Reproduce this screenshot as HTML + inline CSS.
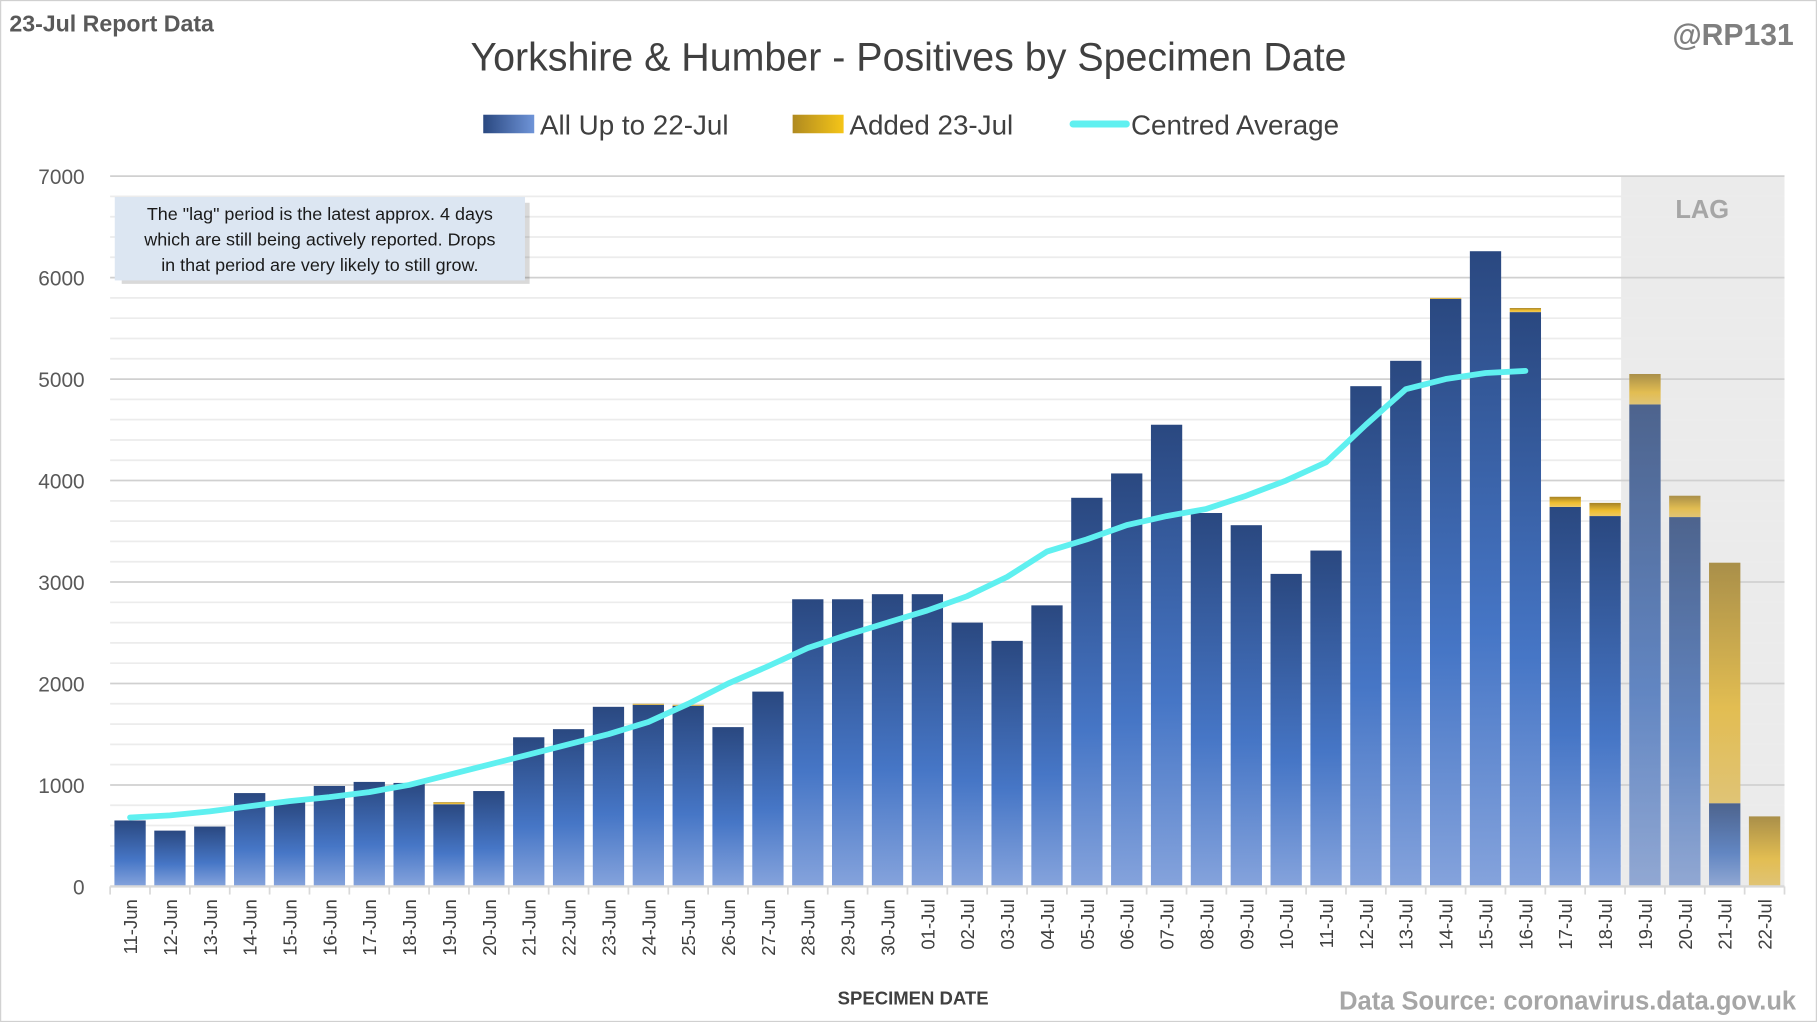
<!DOCTYPE html>
<html><head><meta charset="utf-8"><style>
html,body{margin:0;padding:0;background:#fff;}
svg{display:block;font-family:"Liberation Sans",sans-serif;}
</style></head><body>
<svg width="1817" height="1022" viewBox="0 0 1568 882" xmlns="http://www.w3.org/2000/svg">
<defs>
<linearGradient id="b" x1="0" y1="0" x2="0" y2="1">
<stop offset="0" stop-color="#2a4880"/><stop offset="0.6" stop-color="#4676c6"/><stop offset="1" stop-color="#85a3dc"/></linearGradient>
<linearGradient id="g" x1="0" y1="0" x2="0" y2="1">
<stop offset="0" stop-color="#a58225"/><stop offset="0.6" stop-color="#f0bf30"/><stop offset="1" stop-color="#eec860"/></linearGradient>
<linearGradient id="lb" x1="0" y1="0" x2="1" y2="0">
<stop offset="0" stop-color="#2a4880"/><stop offset="1" stop-color="#6f94d8"/></linearGradient>
<linearGradient id="lg" x1="0" y1="0" x2="1" y2="0">
<stop offset="0" stop-color="#b08a20"/><stop offset="1" stop-color="#f5c518"/></linearGradient>
</defs>
<rect x="0.5" y="0.5" width="1567" height="881" fill="#fff" stroke="#d0d0d0"/>
<text x="8" y="27" font-size="20" font-weight="bold" fill="#595959">23-Jul Report Data</text>
<text x="1548" y="39" font-size="26" font-weight="bold" fill="#7f7f7f" text-anchor="end">@RP131</text>
<text x="784" y="61" font-size="34" fill="#404040" text-anchor="middle">Yorkshire &amp; Humber - Positives by Specimen Date</text>
<rect x="417" y="99" width="44" height="16" fill="url(#lb)"/>
<text x="466" y="116" font-size="24" fill="#404040">All Up to 22-Jul</text>
<rect x="684" y="99" width="44" height="16" fill="url(#lg)"/>
<text x="733" y="116" font-size="24" fill="#404040">Added 23-Jul</text>
<line x1="926" y1="107" x2="972" y2="107" stroke="#5ff0f0" stroke-width="6" stroke-linecap="round"/>
<text x="976" y="116" font-size="24" fill="#404040">Centred Average</text>
<rect x="1399" y="152" width="141" height="613" fill="#ebebeb"/>
<g id="grid"></g>
<text x="1469" y="188" font-size="22" font-weight="bold" fill="#a6a6a6" text-anchor="middle">LAG</text>
<g id="bars"></g>
<polyline id="avg" fill="none" stroke="#5ff0f0" stroke-width="5" stroke-linejoin="round" stroke-linecap="round"/>
<line x1="95" y1="765" x2="1540" y2="765" stroke="#d9d9d9" stroke-width="2"/>
<g id="xl"></g>
<rect x="102" y="172" width="352" height="70" fill="#000" opacity="0.15" transform="translate(3,3)"/>
<rect x="99" y="170" width="354" height="72" fill="#dce6f2"/>
<text font-size="15.5" fill="#1a1a1a" text-anchor="middle"><tspan x="276" y="190">The "lag" period is the latest approx. 4 days</tspan><tspan x="276" y="212">which are still being actively reported.  Drops</tspan><tspan x="276" y="234">in that period are very likely to still grow.</tspan></text>
<text x="788" y="867" font-size="16" font-weight="bold" fill="#404040" text-anchor="middle">SPECIMEN DATE</text>
<text x="1550" y="871" font-size="22" font-weight="bold" fill="#a6a6a6" text-anchor="end">Data Source: coronavirus.data.gov.uk</text>
</svg>
<script>
const NS="http://www.w3.org/2000/svg";
function el(p,t,a,txt){const e=document.createElementNS(NS,t);for(const k in a)e.setAttribute(k,a[k]);if(txt!=null)e.textContent=txt;document.getElementById(p).appendChild(e);return e;}
const y0=765,s=613/7000;
for(let v=200;v<=7000;v+=200){const y=y0-v*s;const maj=v%1000==0;
el("grid","line",{x1:95,x2:1540,y1:y,y2:y,stroke:maj?"#d0d0d0":"#ececec","stroke-width":1.5});}
for(let v=0;v<=7000;v+=1000){el("grid","text",{x:73,y:y0-v*s+7,"font-size":18,fill:"#595959","text-anchor":"end"},String(v));}
const labels=[];for(let d=11;d<=30;d++)labels.push(d+"-Jun");for(let d=1;d<=22;d++)labels.push((d<10?"0":"")+d+"-Jul");
const blue=[650,550,590,920,830,990,1030,1020,810,940,1470,1550,1770,1790,1780,1570,1920,2830,2830,2880,2880,2600,2420,2770,3830,4070,4550,3680,3560,3080,3310,4930,5180,5790,6260,5660,3740,3650,4750,3640,820,0];
const tot=[650,550,590,920,830,990,1030,1020,830,940,1470,1550,1770,1800,1790,1570,1920,2830,2830,2880,2880,2600,2420,2770,3830,4070,4550,3680,3560,3080,3310,4930,5180,5800,6260,5700,3840,3780,5050,3850,3190,690];
const w=1445/42;
labels.forEach((l,i)=>{const cx=95+w*(i+0.5);const bw=27;
if(blue[i]>0)el("bars","rect",{x:cx-bw/2,y:y0-blue[i]*s,width:bw,height:blue[i]*s,fill:"url(#b)"});
if(tot[i]>blue[i])el("bars","rect",{x:cx-bw/2,y:y0-tot[i]*s,width:bw,height:(tot[i]-blue[i])*s,fill:"url(#g)"});
if(i>=38)el("bars","rect",{x:cx-bw/2,y:y0-tot[i]*s,width:bw,height:tot[i]*s,fill:"#b8b8b8",opacity:0.25});
el("xl","line",{x1:95+w*i,x2:95+w*i,y1:765,y2:772,stroke:"#d9d9d9","stroke-width":1.5});
el("xl","text",{transform:`translate(${cx+6},776) rotate(-90)`,"font-size":16,fill:"#404040","text-anchor":"end"},l);});
el("xl","line",{x1:1540,x2:1540,y1:765,y2:772,stroke:"#d9d9d9","stroke-width":1.5});
const avg=[680,700,740,790,840,880,930,1000,1100,1200,1300,1400,1500,1620,1800,2000,2170,2350,2480,2600,2720,2860,3050,3300,3420,3560,3650,3720,3850,4000,4180,4550,4900,5000,5060,5080];
document.getElementById("avg").setAttribute("points",avg.map((v,i)=>(95+w*(i+0.5)).toFixed(1)+","+(y0-v*s).toFixed(1)).join(" "));
</script>
</body></html>
